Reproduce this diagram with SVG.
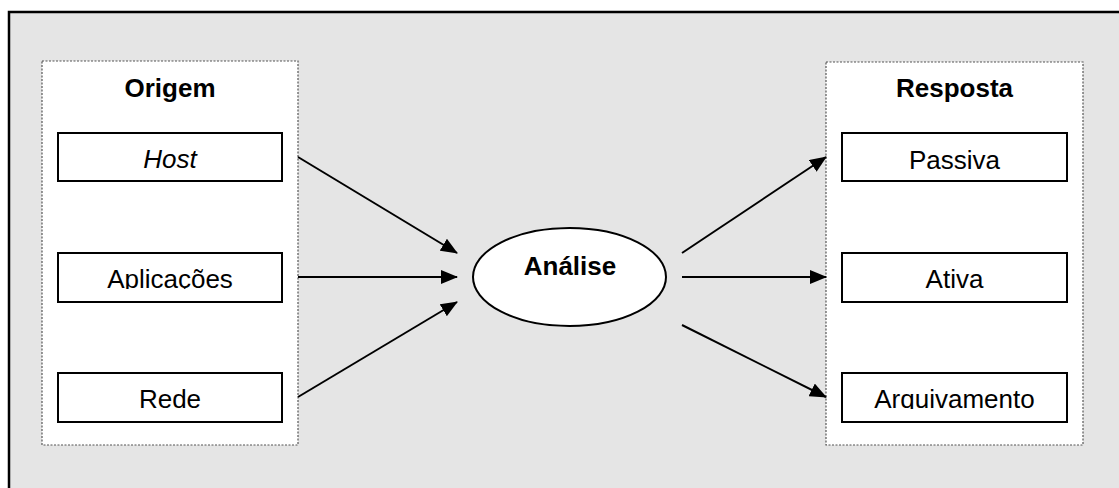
<svg xmlns="http://www.w3.org/2000/svg" width="1119" height="488" viewBox="0 0 1119 488">
  <style>
    .frame { fill: #e5e5e5; stroke: #000; stroke-width: 2.5; }
    .group { fill: #fff; stroke: #555; stroke-width: 1.2; stroke-dasharray: 2 1.5; }
    .box { fill: #fff; stroke: #000; stroke-width: 2; }
    .title { font-family: "Liberation Sans", Arial, sans-serif; font-size: 26px; font-weight: bold; text-anchor: middle; fill: #000; }
    .label { font-family: "Liberation Sans", Arial, sans-serif; font-size: 26px; text-anchor: middle; fill: #000; }
    .conn { stroke: #000; stroke-width: 2; fill: none; marker-end: url(#arrow); }
  </style>
  <defs>
    <marker id="arrow" markerUnits="userSpaceOnUse" markerWidth="17" markerHeight="14" refX="16" refY="7" orient="auto">
      <path d="M0,0 L17,7 L0,14 z" fill="#000"/>
    </marker>
    <clipPath id="clipApl"><rect x="58" y="253" width="224" height="36"/></clipPath>
    <clipPath id="clipArq"><rect x="842" y="373" width="225" height="36"/></clipPath>
  </defs>

  <rect class="frame" x="9" y="12" width="1125" height="490"/>

  <g id="origem">
    <rect class="group" x="42" y="61" width="256" height="384"/>
    <text class="title" x="170" y="97">Origem</text>
  </g>
  <g id="host">
    <rect class="box" x="58" y="133" width="224" height="48"/>
    <text class="label" x="170" y="168" font-style="italic">Host</text>
  </g>
  <g id="aplicacoes">
    <rect class="box" x="58" y="253" width="224" height="49"/>
    <text class="label" x="170" y="288" clip-path="url(#clipApl)">Aplicações</text>
  </g>
  <g id="rede">
    <rect class="box" x="58" y="373" width="224" height="49"/>
    <text class="label" x="170" y="408">Rede</text>
  </g>

  <g id="analise">
    <ellipse cx="569.5" cy="277" rx="96.5" ry="49" fill="#fff" stroke="#000" stroke-width="2"/>
    <text class="title" x="570" y="275">Análise</text>
  </g>

  <g id="resposta">
    <rect class="group" x="826" y="62" width="257" height="383"/>
    <text class="title" x="954.5" y="97">Resposta</text>
  </g>
  <g id="passiva">
    <rect class="box" x="842" y="133" width="225" height="48"/>
    <text class="label" x="954.5" y="169">Passiva</text>
  </g>
  <g id="ativa">
    <rect class="box" x="842" y="253" width="225" height="49"/>
    <text class="label" x="954.5" y="288">Ativa</text>
  </g>
  <g id="arquivamento">
    <rect class="box" x="842" y="373" width="225" height="49"/>
    <text class="label" x="954.5" y="408" clip-path="url(#clipArq)">Arquivamento</text>
  </g>

  <g id="connectors">
    <line class="conn" x1="298" y1="157" x2="457" y2="253"/>
    <line class="conn" x1="298" y1="277" x2="457" y2="277"/>
    <line class="conn" x1="298" y1="397" x2="457" y2="302"/>
    <line class="conn" x1="682" y1="253" x2="826" y2="157"/>
    <line class="conn" x1="682" y1="277" x2="826" y2="277"/>
    <line class="conn" x1="682" y1="325" x2="826" y2="397"/>
  </g>
</svg>
